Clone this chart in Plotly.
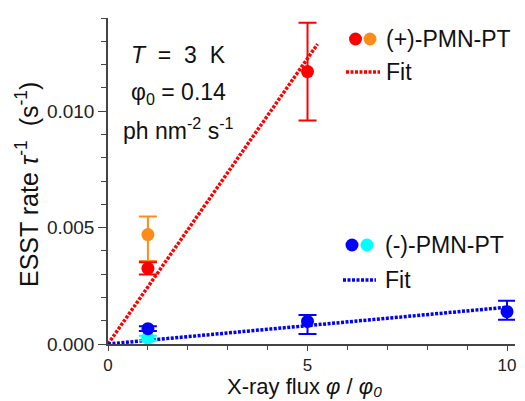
import plotly.graph_objects as go

# Measured ESST rates (s^-1) versus relative X-ray flux phi/phi0
flux_pos = [1, 5]
rate_pos = [0.00325, 0.0117]
err_pos = [0.00026, 0.0021]

flux_pos2 = [1]
rate_pos2 = [0.0047]
err_pos2_up = [0.00078]
err_pos2_dn = [0.00114]

flux_neg = [1, 5, 10]
rate_neg = [0.00066, 0.00097, 0.00139]
err_neg_up = [0.00010, 0.00028, 0.00047]
err_neg_dn = [0.00010, 0.00054, 0.00035]

flux_neg2 = [1]
rate_neg2 = [0.00025]
err_neg2 = [0.00010]

# Linear fits through the origin
slope_pos = 0.002453
slope_neg = 0.000158
fit_x_pos = [i * 0.05 for i in range(0, 106)]   # 0 .. 5.25
fit_x_neg = [i * 0.1 for i in range(0, 101)]    # 0 .. 10

x_ticks = [0, 5, 10]
y_ticks = [0, 0.005, 0.010]

RED, ORANGE, BLUE, CYAN = "#ff0000", "#ff8c1a", "#0000ff", "#00ffff"
FONT = "Liberation Sans, Arial, sans-serif"
INK = "#111111"

fig = go.Figure()

fig.add_trace(go.Scatter(
    x=fit_x_pos, y=[slope_pos * v for v in fit_x_pos], mode="lines",
    line=dict(color=RED, width=3.5, dash="3px,1.5px"), showlegend=False))
fig.add_trace(go.Scatter(
    x=fit_x_neg, y=[slope_neg * v for v in fit_x_neg], mode="lines",
    line=dict(color=BLUE, width=3.5, dash="3px,1.5px"), showlegend=False))


def points(x, y, up, dn, color):
    return go.Scatter(
        x=x, y=y, mode="markers",
        marker=dict(color=color, size=13, line=dict(width=0)),
        error_y=dict(type="data", array=up, arrayminus=dn, symmetric=False,
                     color=color, thickness=2, width=9),
        showlegend=False)


fig.add_trace(points(flux_neg2, rate_neg2, err_neg2, err_neg2, CYAN))
fig.add_trace(points(flux_neg, rate_neg, err_neg_up, err_neg_dn, BLUE))
fig.add_trace(points(flux_pos2, rate_pos2, err_pos2_up, err_pos2_dn, ORANGE))
fig.add_trace(points(flux_pos, rate_pos, err_pos, err_pos, RED))

# Plot-area pixel geometry used to place the key, notes and axis titles
L, R, T, B = 108, 515, 18, 344


def px(xp):
    return (xp - L) / (R - L)


def py(yp):
    return (B - yp) / (B - T)


shapes = []
annotations = []


def dot(xp, yp, color):
    shapes.append(dict(type="circle", xref="paper", yref="paper",
                       xsizemode="pixel", ysizemode="pixel",
                       xanchor=px(xp), yanchor=py(yp),
                       x0=-6.5, x1=6.5, y0=-6.5, y1=6.5,
                       fillcolor=color, line=dict(width=0)))


def fitkey(x0p, x1p, yp, color):
    shapes.append(dict(type="line", xref="paper", yref="paper",
                       x0=px(x0p), x1=px(x1p), y0=py(yp), y1=py(yp),
                       line=dict(color=color, width=3.5, dash="3px,1.5px")))


def text(xp, yp, s, size=23, anchor="left", angle=0, vanchor="middle"):
    annotations.append(dict(xref="paper", yref="paper", x=px(xp), y=py(yp),
                            text=s, showarrow=False, xanchor=anchor,
                            yanchor=vanchor, textangle=angle, borderpad=0,
                            font=dict(family=FONT, size=size, color=INK)))


dot(355.5, 39, RED)
dot(370, 39, ORANGE)
text(385, 39, "(+)-PMN-PT")
fitkey(346, 380, 72, RED)
text(385, 72, "Fit")

dot(352, 245, BLUE)
dot(367, 245, CYAN)
text(384, 245, "(-)-PMN-PT")
fitkey(343, 376, 280, BLUE)
text(384, 280, "Fit")

text(178, 55, "<i>T</i>  =  3  K", anchor="center")
text(178, 93, "φ<sub>0</sub> = 0.14", anchor="center")
text(178, 129, "ph nm<sup>-2</sup> s<sup>-1</sup>", anchor="center")

# Axis titles
text(304, 400, "X-ray flux <i>φ</i> / <i>φ₀</i>", size=22,
     anchor="center", vanchor="bottom")
text(27, 185,
     "ESST rate <i>τ</i><sup>-1</sup>&nbsp;&nbsp;(s<sup>-1</sup>)",
     size=25, anchor="center", angle=-90)

axis_common = dict(
    ticks="outside", tickwidth=1.2, tickcolor="#444444", showline=True,
    linecolor="#444444", linewidth=1.5, showgrid=False, zeroline=False,
    automargin=False)

fig.update_layout(
    width=525, height=401,
    margin=dict(l=L, r=525 - R, t=T, b=401 - B),
    paper_bgcolor="white", plot_bgcolor="white",
    font=dict(family=FONT, color="#222222"),
    shapes=shapes, annotations=annotations,
    xaxis=dict(
        range=[0, 10.2], tickvals=x_ticks, ticklen=5,
        tickfont=dict(size=17, color="#222222"),
        minor=dict(dtick=1, ticks="outside", ticklen=4, tickcolor="#444444",
                   tickwidth=1.2, showgrid=False),
        **axis_common),
    yaxis=dict(
        range=[0, 0.014], tickvals=y_ticks, tickformat=".3f", ticklen=8,
        tickfont=dict(size=19, color="#222222"),
        minor=dict(dtick=0.001, ticks="outside", ticklen=5,
                   tickcolor="#444444", tickwidth=1.2, showgrid=False),
        **axis_common),
)

fig.write_html("out.html")
